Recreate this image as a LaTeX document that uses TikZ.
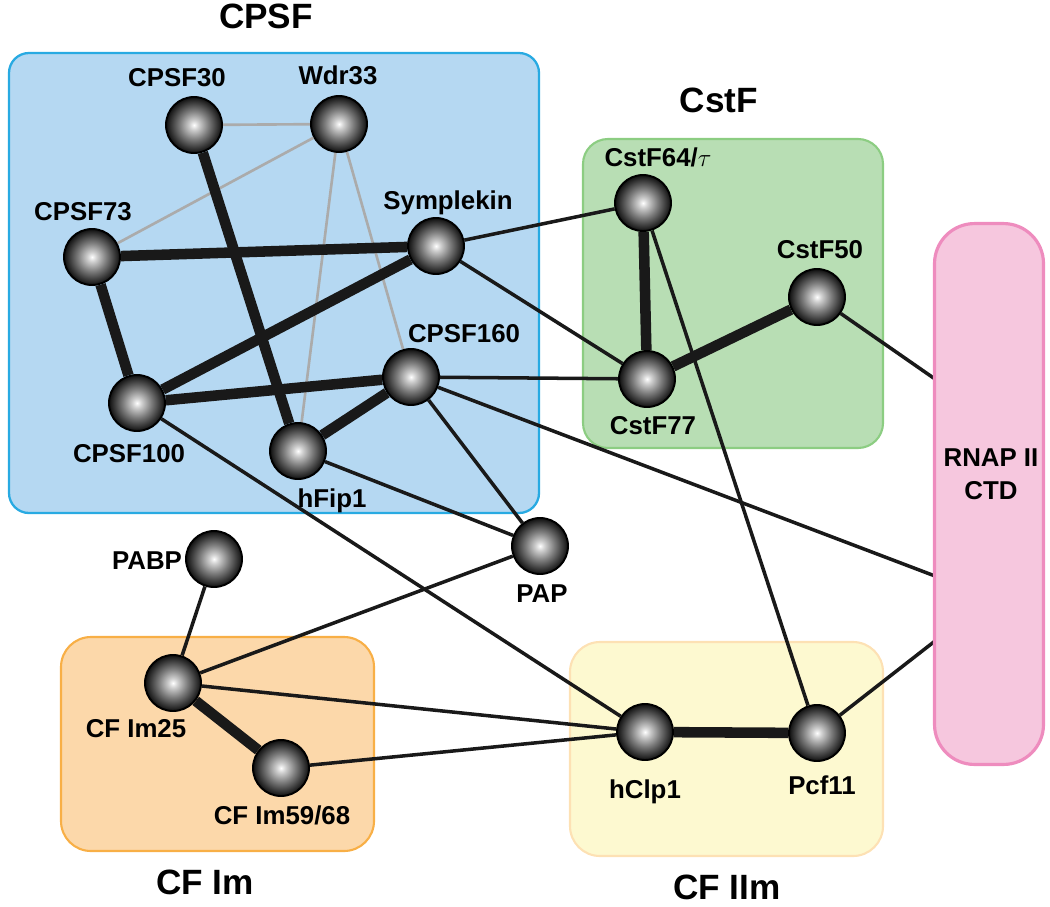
\documentclass[tikz,border=0pt]{standalone}
\usepackage{fontspec}
\setmainfont{Liberation Sans}
\usetikzlibrary{positioning}

\pgfdeclarelayer{boxes}
\pgfdeclarelayer{links}
\pgfsetlayers{boxes,links,main}

\pgfdeclareradialshading{sphere}{\pgfpoint{0bp}{0bp}}{%
  color(0bp)=(white); color(4bp)=(black!18); color(13bp)=(black!52);
  color(21bp)=(black!80); color(25bp)=(black!94); color(50bp)=(black!94)}

\definecolor{cpsffill}{RGB}{181,216,242}
\definecolor{cpsfline}{RGB}{40,170,226}
\definecolor{cstffill}{RGB}{184,222,180}
\definecolor{cstfline}{RGB}{140,205,130}
\definecolor{imfill}{RGB}{252,216,170}
\definecolor{imline}{RGB}{248,175,70}
\definecolor{iimfill}{RGB}{253,249,208}
\definecolor{iimline}{RGB}{253,225,180}
\definecolor{ctdfill}{RGB}{246,199,222}
\definecolor{ctdline}{RGB}{238,140,190}

\tikzset{
  prot/.style={circle, draw=black, line width=1.1pt, minimum size=1.12cm,
    inner sep=0pt, shading=sphere},
  lbl/.style={font=\bfseries\fontsize{14.7}{16}\selectfont, inner sep=0pt,
    text height=10.5pt, text depth=0pt},
  ttl/.style={font=\bfseries\fontsize{20}{24}\selectfont, inner sep=0pt,
    text height=14.3pt, text depth=0pt},
  strong/.style={line width=6pt, black!90},
  weak/.style={line width=2pt, black!90},
  faint/.style={line width=1.5pt, black!33},
}

\begin{document}
\begin{tikzpicture}[x=0.02cm, y=-0.02cm]
  \useasboundingbox (0,0) rectangle (1050,906);

  % complexes
  \begin{pgfonlayer}{boxes}
    \draw[fill=cpsffill, draw=cpsfline, line width=1.3pt, rounded corners=0.4cm]
      (9,53) rectangle (539,513);
    \draw[fill=cstffill, draw=cstfline, line width=1.2pt, rounded corners=0.5cm]
      (583,139) rectangle (883,448);
    \draw[fill=imfill, draw=imline, line width=1.2pt, rounded corners=0.6cm]
      (61,637) rectangle (374,851);
    \draw[fill=iimfill, draw=iimline, line width=1.2pt, rounded corners=0.6cm]
      (570,642) rectangle (883,856);
  \end{pgfonlayer}
  \node[fill=ctdfill, draw=ctdline, line width=1.8pt, rounded corners=0.8cm,
    minimum width=2.18cm, minimum height=10.82cm] (rnap) at (989,494) {};
  \node[font=\bfseries\fontsize{14.7}{16}\selectfont, inner sep=0pt,
    align=center] (ctdtext) at (991,474) {RNAP II\\[3pt]CTD};

  \node[ttl] (cpsfttl) at (266,16) {CPSF};
  \node[ttl] (cstfttl) at (719,100) {CstF};
  \node[ttl] (imttl) at (205,882) {CF Im};
  \node[ttl] (iimttl) at (727,887) {CF IIm};

  % subunits
  \node[prot] (cpsf30) at (194,125) {};
  \node[prot] (wdr33) at (339,124) {};
  \node[prot] (cpsf73) at (92,257) {};
  \node[prot] (sympl) at (436,246) {};
  \node[prot] (cpsf160) at (411,377) {};
  \node[prot] (cpsf100) at (137,403) {};
  \node[prot] (hfip1) at (298,451) {};
  \node[prot] (cstf64) at (643,203) {};
  \node[prot] (cstf50) at (817,297) {};
  \node[prot] (cstf77) at (647,379) {};
  \node[prot] (pap) at (540,546) {};
  \node[prot] (pabp) at (214,559) {};
  \node[prot] (cfim25) at (173,683) {};
  \node[prot] (cfim59) at (281,768) {};
  \node[prot] (hclp1) at (645,732) {};
  \node[prot] (pcf11) at (817,733) {};

  \node[lbl] (cpsf30l) at (177,77) {CPSF30};
  \node[lbl] (wdr33l) at (338,75) {Wdr33};
  \node[lbl] (cpsf73l) at (83,211) {CPSF73};
  \node[lbl] (sympll) at (448,200) {Symplekin};
  \node[lbl] (cpsf160l) at (464,333) {CPSF160};
  \node[lbl] (cpsf100l) at (129,453) {CPSF100};
  \node[lbl] (hfip1l) at (332,498) {hFip1};
  \node[lbl] (cstf64l) at (658,157) {CstF64/$\tau$};
  \node[lbl] (cstf50l) at (820,249) {CstF50};
  \node[lbl] (cstf77l) at (653,425) {CstF77};
  \node[lbl] (papl) at (542,593) {PAP};
  \node[lbl] (pabpl) at (147,560) {PABP};
  \node[lbl] (cfim25l) at (136,728) {CF Im25};
  \node[lbl] (cfim59l) at (282,815) {CF Im59/68};
  \node[lbl] (hclp1l) at (645,789) {hClp1};
  \node[lbl] (pcf11l) at (822,785) {Pcf11};

  % contact points on the CTD
  \coordinate (ctd50) at (935,379);
  \coordinate (ctd160) at (935,576);
  \coordinate (ctd11) at (935,641);

  % interactions
  \begin{pgfonlayer}{links}
    \foreach \a/\b in {cpsf30/wdr33, wdr33/cpsf73, wdr33/hfip1, wdr33/cpsf160}
      \draw[faint] (\a) -- (\b);
    \foreach \a/\b in {cpsf30/hfip1, cpsf73/sympl, cpsf73/cpsf100, cpsf100/sympl,
        cpsf100/cpsf160, cpsf160/hfip1, cstf64/cstf77, cstf77/cstf50,
        cfim25/cfim59, hclp1/pcf11}
      \draw[strong] (\a) -- (\b);
    \foreach \a/\b in {sympl/cstf64, sympl/cstf77, cpsf160/cstf77, cpsf160/ctd160,
        cpsf160/pap, cpsf100/hclp1, hfip1/pap, pap/cfim25, pabp/cfim25,
        cfim25/hclp1, cfim59/hclp1, cstf64/pcf11, cstf50/ctd50, pcf11/ctd11}
      \draw[weak] (\a) -- (\b);
  \end{pgfonlayer}
\end{tikzpicture}
\end{document}
